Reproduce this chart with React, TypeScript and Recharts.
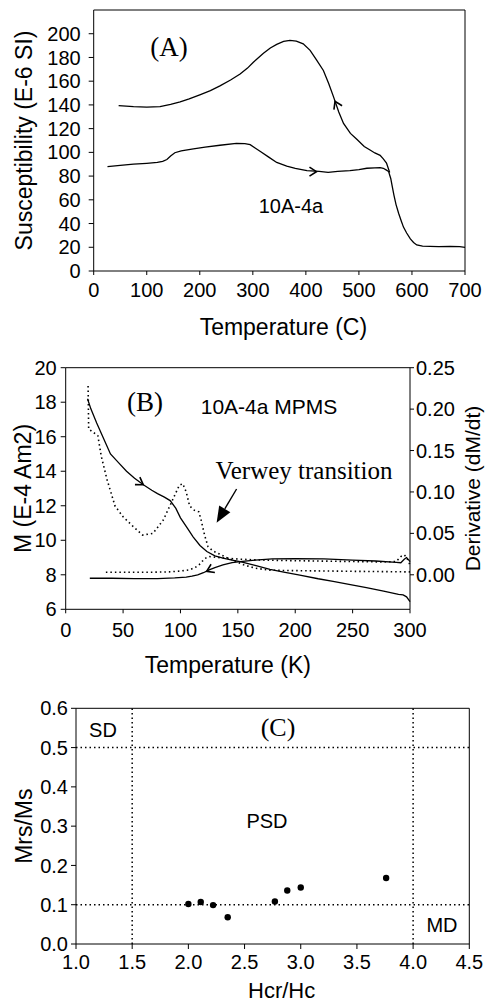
import React from 'react'
import {
  ComposedChart,
  ScatterChart,
  Line,
  Scatter,
  XAxis,
  YAxis,
  ReferenceLine,
  ReferenceDot,
  Label,
} from 'recharts'

const SANS = '"Liberation Sans", Arial, Helvetica, sans-serif'
const SERIF = '"Liberation Serif", "Times New Roman", serif'

// (A) susceptibility vs temperature, heating and cooling runs
const heatTemp = [26, 50, 75, 100, 120, 130, 138, 145, 153, 165, 188, 210, 238, 269, 285, 295, 305, 315, 330, 345, 364, 380, 402, 425, 442, 460, 483, 500, 515, 530, 540, 546, 552, 556, 560, 563, 566, 570, 575, 580, 584, 590, 597, 603, 609, 620, 634, 650, 672, 690, 700]
const heatChi = [88, 89, 90, 90.8, 91.5, 92.5, 94, 97, 99.7, 101.3, 103, 104.5, 106, 107.5, 107.3, 106.5, 103.5, 100.5, 96, 91.5, 88.5, 86.5, 84.6, 84, 83.2, 84, 84.6, 85.5, 86.6, 87, 87.2, 86.6, 85, 83.8, 78, 71, 64, 56, 48.5, 42, 37, 32, 27, 24, 22, 21, 20.8, 20.6, 20.8, 20.6, 20]
const coolTemp = [558, 552, 546, 540, 530, 521, 510, 496, 484, 471, 462, 452, 443, 433, 420, 408, 395, 382, 370, 358, 345, 333, 320, 301, 290, 276, 258, 238, 220, 200, 180, 163, 145, 125, 100, 75, 47]
const coolChi = [83, 91, 94.5, 97.5, 99.5, 102, 105, 111, 116, 124.4, 134, 147, 158, 169, 178, 186, 191.5, 193.8, 194.4, 193.5, 191, 188, 183.5, 176, 171, 166, 161, 156, 152, 148.5, 145, 142.5, 140.5, 138.5, 138.2, 138.5, 139.4]
const chiTicks = [0, 20, 40, 60, 80, 100, 120, 140, 160, 180, 200]
const tempCTicks = [0, 100, 200, 300, 400, 500, 600, 700]

// (B) low temperature MPMS: moment and its derivative
const mCoolK = [19, 22, 27, 33, 39, 46, 53, 60, 68, 75, 80, 86, 91, 96, 100, 106, 111, 117, 123, 130, 137, 145, 152, 165, 178, 190, 204, 220, 233, 248, 262, 277, 290, 294, 297, 300]
const mCoolM = [18.2, 17.6, 16.8, 15.9, 15.0, 14.5, 14.0, 13.6, 13.2, 12.9, 12.7, 12.5, 12.3, 11.85, 11.3, 10.7, 10.2, 9.7, 9.35, 9.1, 8.96, 8.85, 8.76, 8.55, 8.32, 8.16, 7.98, 7.77, 7.62, 7.43, 7.25, 7.05, 6.87, 6.83, 6.72, 6.45]
const mWarmK = [21, 40, 60, 80, 95, 105, 110, 115, 120, 125, 130, 137, 145, 152, 165, 180, 200, 225, 250, 270, 288, 292, 295, 297, 299, 300]
const mWarmM = [7.8, 7.8, 7.78, 7.78, 7.82, 7.87, 7.92, 8.0, 8.12, 8.28, 8.42, 8.57, 8.7, 8.76, 8.85, 8.92, 8.94, 8.92, 8.85, 8.8, 8.72, 8.7, 8.9, 9.0, 8.85, 8.76]
const dCoolK = [19.5, 19.7, 20, 24, 28, 31, 36, 43, 50, 59, 67, 76, 85, 94, 99, 102, 105, 108, 112, 116, 118, 121, 124, 128, 134, 140, 146, 155, 165, 178, 200, 250, 300]
const dCoolD = [0.228, 0.21, 0.176, 0.172, 0.168, 0.143, 0.115, 0.083, 0.07, 0.058, 0.048, 0.05, 0.066, 0.093, 0.108, 0.11, 0.1, 0.083, 0.078, 0.076, 0.066, 0.048, 0.034, 0.029, 0.025, 0.021, 0.0175, 0.012, 0.008, 0.0055, 0.005, 0.0042, 0.0035]
const dWarmK = [35, 50, 70, 90, 100, 108, 113, 117, 121, 125, 132, 140, 150, 165, 180, 200, 225, 250, 275, 288, 292, 295, 297, 299, 300]
const dWarmD = [0.003, 0.003, 0.003, 0.0035, 0.0045, 0.006, 0.009, 0.013, 0.0195, 0.022, 0.021, 0.02, 0.019, 0.018, 0.0175, 0.017, 0.0165, 0.016, 0.0155, 0.016, 0.022, 0.024, 0.021, 0.015, 0.012]
const mTicks = [6, 8, 10, 12, 14, 16, 18, 20]
const derivTicks = [0, 0.05, 0.1, 0.15, 0.2, 0.25]
const tempKTicks = [0, 50, 100, 150, 200, 250, 300]

// (C) Day plot
const hcrHc = [2.0, 2.11, 2.22, 2.35, 2.77, 2.88, 3.0, 3.76]
const mrsMs = [0.102, 0.107, 0.099, 0.068, 0.108, 0.136, 0.144, 0.168]
const hcrTicks = [1.0, 1.5, 2.0, 2.5, 3.0, 3.5, 4.0, 4.5]
const mrsTicks = [0, 0.1, 0.2, 0.3, 0.4, 0.5, 0.6]

const zip = (xs: number[], ys: number[]) => xs.map((x, i) => ({ x, y: ys[i] }))

const tickStyle = { fill: '#000', fontSize: 20, fontFamily: SANS }
const titleStyle = { fill: '#000', fontSize: 23, fontFamily: SANS }

const Chevron = ({ cx, cy, angle }: any) => (
  <path
    d="M -7 -4.5 L 0 0 L -7 4.5"
    transform={`translate(${cx} ${cy}) rotate(${angle})`}
    fill="none"
    stroke="#000"
    strokeWidth={1.6}
  />
)

const chevron = (angle: number) => (p: any) => <Chevron cx={p.cx} cy={p.cy} angle={angle} />

// filled arrow pointing at the Verwey transition
const BigArrow = ({ x1, y1, x2, y2 }: any) => {
  const a = Math.atan2(y2 - y1, x2 - x1)
  const len = 16
  const half = 6.5
  const bx = x2 - len * Math.cos(a)
  const by = y2 - len * Math.sin(a)
  const px = -Math.sin(a) * half
  const py = Math.cos(a) * half
  return (
    <g>
      <line x1={x1} y1={y1} x2={bx} y2={by} stroke="#000" strokeWidth={1.4} />
      <polygon points={`${x2},${y2} ${bx + px},${by + py} ${bx - px},${by - py}`} fill="#000" />
    </g>
  )
}

const Note = ({ x, y, size, serif, children }: any) => (
  <div
    style={{
      position: 'absolute',
      left: x,
      top: y,
      transform: 'translate(-50%, -50%)',
      fontSize: size,
      lineHeight: 1,
      fontFamily: serif ? SERIF : SANS,
      whiteSpace: 'nowrap',
      color: '#000',
    }}
  >
    {children}
  </div>
)

const dotted = '1.5 3'

export default function App() {
  const heatData = zip(heatTemp, heatChi)
  const coolData = zip(coolTemp, coolChi)
  const mCool = zip(mCoolK, mCoolM)
  const mWarm = zip(mWarmK, mWarmM)
  const dCool = zip(dCoolK, dCoolD)
  const dWarm = zip(dWarmK, dWarmD)
  const dayData = zip(hcrHc, mrsMs)

  return (
    <div style={{ position: 'absolute', left: 0, top: 0, width: 487, height: 1004, background: '#fff' }}>
      {/* (A) */}
      <div style={{ position: 'absolute', left: 0, top: 0 }}>
        <ComposedChart width={487} height={345} margin={{ top: 10, right: 22, bottom: 0, left: 0 }}>
          <XAxis
            type="number"
            dataKey="x"
            domain={[0, 700]}
            ticks={tempCTicks}
            interval={0}
            height={74}
            tickSize={4}
            tickMargin={8}
            stroke="#000"
            tick={tickStyle}
          >
            <Label value="Temperature (C)" position="insideBottom" offset={10.5} dx={4} style={titleStyle} />
          </XAxis>
          <YAxis
            type="number"
            domain={[0, 220]}
            ticks={chiTicks}
            interval={0}
            width={93.7}
            tickSize={5}
            tickMargin={8}
            stroke="#000"
            tick={tickStyle}
          >
            <Label
              value="Susceptibility (E-6 SI)"
              angle={-90}
              position="insideLeft"
              offset={24}
              textAnchor="middle"
              style={{ ...titleStyle, textAnchor: 'middle' }}
            />
          </YAxis>
          <ReferenceLine y={220} stroke="#000" />
          <ReferenceLine x={700} stroke="#000" />
          <Line data={heatData} dataKey="y" type="linear" stroke="#000" strokeWidth={1.3} dot={false} isAnimationActive={false} />
          <Line data={coolData} dataKey="y" type="linear" stroke="#000" strokeWidth={1.3} dot={false} isAnimationActive={false} />
          <ReferenceDot x={420} y={83.7} r={1} shape={chevron(0)} />
          <ReferenceDot x={455} y={143} r={1} shape={chevron(-115)} />
        </ComposedChart>
      </div>

      {/* (B) */}
      <div style={{ position: 'absolute', left: 0, top: 345 }}>
        <ComposedChart width={487} height={340} margin={{ top: 22.7, right: 0, bottom: 0, left: 0 }}>
          <XAxis
            type="number"
            dataKey="x"
            domain={[0, 300]}
            ticks={tempKTicks}
            interval={0}
            height={75.7}
            tickSize={4}
            tickMargin={9.5}
            stroke="#000"
            tick={tickStyle}
          >
            <Label value="Temperature (K)" position="insideBottom" offset={12.5} dx={-10} style={titleStyle} />
          </XAxis>
          <YAxis
            yAxisId="m"
            type="number"
            domain={[6, 20]}
            ticks={mTicks}
            interval={0}
            width={65.7}
            tickSize={5}
            tickMargin={4}
            stroke="#000"
            tick={tickStyle}
          >
            <Label
              value="M (E-4 Am2)"
              angle={-90}
              position="insideLeft"
              offset={23}
              textAnchor="middle"
              style={{ ...titleStyle, textAnchor: 'middle' }}
            />
          </YAxis>
          <YAxis
            yAxisId="d"
            orientation="right"
            type="number"
            domain={[-0.041667, 0.25]}
            ticks={derivTicks}
            interval={0}
            width={77}
            tickSize={4}
            tickMargin={2}
            stroke="#000"
            tick={tickStyle}
            tickFormatter={(v: number) => v.toFixed(2)}
          >
            <Label
              value="Derivative (dM/dt)"
              angle={-90}
              position="insideRight"
              offset={14}
              textAnchor="middle"
              style={{ ...titleStyle, fontSize: 21, textAnchor: 'middle' }}
            />
          </YAxis>
          <ReferenceLine yAxisId="m" y={20} stroke="#000" />
          <Line yAxisId="d" data={dCool} dataKey="y" type="linear" stroke="#000" strokeWidth={1.6} strokeDasharray={dotted} dot={false} isAnimationActive={false} />
          <Line yAxisId="d" data={dWarm} dataKey="y" type="linear" stroke="#000" strokeWidth={1.6} strokeDasharray={dotted} dot={false} isAnimationActive={false} />
          <Line yAxisId="m" data={mCool} dataKey="y" type="linear" stroke="#000" strokeWidth={1.3} dot={false} isAnimationActive={false} />
          <Line yAxisId="m" data={mWarm} dataKey="y" type="linear" stroke="#000" strokeWidth={1.3} dot={false} isAnimationActive={false} />
          <ReferenceDot yAxisId="m" x={67.6} y={13.22} r={1} shape={chevron(33)} />
          <ReferenceDot yAxisId="m" x={122.8} y={8.2} r={1} shape={chevron(155)} />
          <ReferenceLine
            yAxisId="m"
            segment={[{ x: 148.9, y: 12.97 }, { x: 131.5, y: 11.02 }]}
            shape={BigArrow}
          />
        </ComposedChart>
      </div>

      {/* (C) */}
      <div style={{ position: 'absolute', left: 0, top: 685 }}>
        <ScatterChart width={487} height={319} margin={{ top: 23.3, right: 17.7, bottom: 0, left: 0 }}>
          <XAxis
            type="number"
            dataKey="x"
            domain={[1, 4.5]}
            ticks={hcrTicks}
            interval={0}
            height={60}
            tickSize={5}
            tickMargin={6}
            stroke="#000"
            tick={tickStyle}
            tickFormatter={(v: number) => v.toFixed(1)}
          >
            <Label value="Hcr/Hc" position="insideBottom" offset={6} dx={9} style={{ ...titleStyle, fontSize: 22 }} />
          </XAxis>
          <YAxis
            type="number"
            dataKey="y"
            domain={[0, 0.6]}
            ticks={mrsTicks}
            interval={0}
            width={76}
            tickSize={5}
            tickMargin={3}
            stroke="#000"
            tick={tickStyle}
            tickFormatter={(v: number) => v.toFixed(1)}
          >
            <Label
              value="Mrs/Ms"
              angle={-90}
              position="insideLeft"
              offset={24}
              textAnchor="middle"
              style={{ ...titleStyle, textAnchor: 'middle' }}
            />
          </YAxis>
          <ReferenceLine y={0.6} stroke="#000" />
          <ReferenceLine x={4.5} stroke="#000" />
          <ReferenceLine x={1.5} stroke="#000" strokeWidth={1.5} strokeDasharray={dotted} />
          <ReferenceLine x={4.0} stroke="#000" strokeWidth={1.5} strokeDasharray={dotted} />
          <ReferenceLine y={0.5} stroke="#000" strokeWidth={1.5} strokeDasharray={dotted} />
          <ReferenceLine y={0.1} stroke="#000" strokeWidth={1.5} strokeDasharray={dotted} />
          <Scatter
            data={dayData}
            fill="#000"
            isAnimationActive={false}
            shape={(p: any) => <circle cx={p.cx} cy={p.cy} r={3.2} fill="#000" />}
          />
        </ScatterChart>
      </div>

      <Note x={169} y={47} size={27} serif>(A)</Note>
      <Note x={291} y={206} size={20}>10A-4a</Note>
      <Note x={145} y={402} size={27} serif>(B)</Note>
      <Note x={269} y={406} size={21}>10A-4a MPMS</Note>
      <Note x={304} y={470} size={25} serif>Verwey transition</Note>
      <Note x={103} y={730} size={20}>SD</Note>
      <Note x={278} y={728} size={26} serif>(C)</Note>
      <Note x={267} y={821} size={20}>PSD</Note>
      <Note x={442} y={925} size={20}>MD</Note>
    </div>
  )
}
